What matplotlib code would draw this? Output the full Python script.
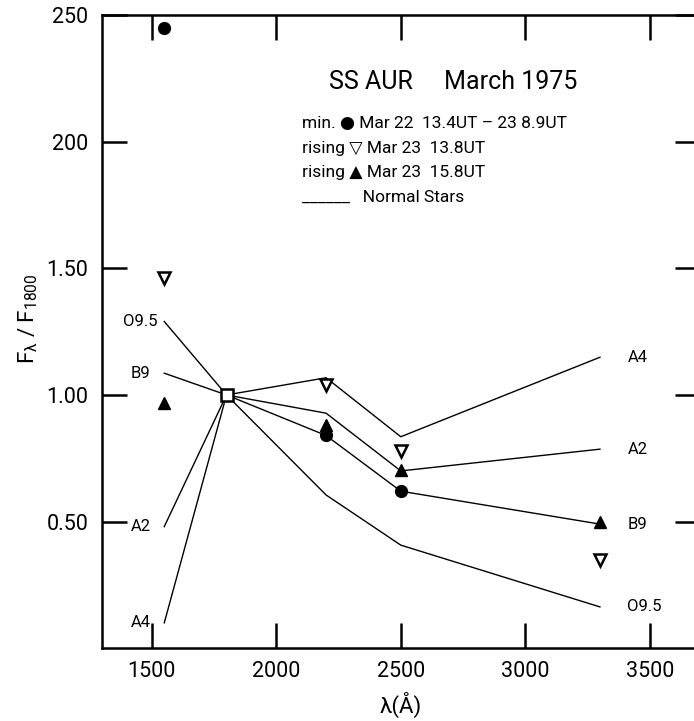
import matplotlib
matplotlib.use('Agg')
import matplotlib.pyplot as plt

plt.rcParams['font.family'] = ['Roboto', 'DejaVu Sans']
plt.rcParams['mathtext.fontset'] = 'custom'
plt.rcParams['mathtext.rm'] = 'Roboto'
plt.rcParams['mathtext.it'] = 'Roboto'

# normal stars, F(lambda)/F(1800)
lam_norm = [1550, 1800, 2200, 2500, 3300]
stars = ['O9.5', 'B9', 'A2', 'A4']
norm_O95 = [1.29, 1.00, 0.605, 0.407, 0.163]
norm_B9 = [1.086, 1.00, 0.84, 0.62, 0.49]
norm_A2 = [0.48, 1.00, 0.928, 0.70, 0.786]
norm_A4 = [0.10, 1.00, 1.068, 0.835, 1.149]

# SS Aur observations
lam_min = [1550, 2200, 2500]
f_min = [2.45, 0.84, 0.62]
lam_r1 = [1550, 2200, 2500, 3300]
f_r1 = [1.46, 1.04, 0.78, 0.35]
lam_r2 = [1550, 2200, 2500, 3300]
f_r2 = [0.97, 0.88, 0.705, 0.50]
lam_ref = [1800]
f_ref = [1.00]

xticks = [1500, 2000, 2500, 3000, 3500]
yticks = [0.5, 1.0, 1.5, 2.0, 2.5]
ytick_labels = ['0.50', '1.00', '1.50', '200', '250']

fig = plt.figure(figsize=(6.94, 7.21), dpi=100)
ax = fig.add_axes([0.147, 0.101, 0.861, 0.878])

for name, vals in zip(stars, [norm_O95, norm_B9, norm_A2, norm_A4]):
    ax.plot(lam_norm, vals, color='black', lw=1.0, zorder=2)
    ax.text(1455, vals[0], name, fontsize=12, ha='center', va='center')
    ax.text(3410, vals[-1], name, fontsize=12, ha='left', va='center')

ax.plot(lam_min, f_min, 'o', color='black', ms=8.5, zorder=4, ls='none')
ax.plot(lam_r1, f_r1, 'v', mfc='white', mec='black', mew=1.8, ms=8, zorder=4, ls='none')
ax.plot(lam_r2, f_r2, '^', color='black', ms=9, zorder=4, ls='none')
ax.plot(lam_ref, f_ref, 's', mfc='white', mec='black', mew=1.8, ms=9, zorder=5, ls='none')

# legend block
ax.text(0.587, 0.894, 'SS AUR     March 1975', transform=ax.transAxes,
        fontsize=18, ha='center', va='center')
ax.text(0.335, 0.829, 'min. \u25cf Mar 22  13.4UT \u2013 23 8.9UT', transform=ax.transAxes,
        fontsize=12.5, ha='left', va='center')
ax.text(0.335, 0.790, 'rising \u25bd Mar 23  13.8UT', transform=ax.transAxes,
        fontsize=12.5, ha='left', va='center')
ax.text(0.335, 0.752, 'rising \u25b2 Mar 23  15.8UT', transform=ax.transAxes,
        fontsize=12.5, ha='left', va='center')
ax.text(0.335, 0.712, '______   Normal Stars', transform=ax.transAxes,
        fontsize=12.5, ha='left', va='center')

ax.set_xlim(1300, 3700)
ax.set_ylim(0, 2.5)
ax.set_xticks(xticks)
ax.set_yticks(yticks)
ax.set_yticklabels(ytick_labels)
ax.tick_params(direction='in', length=18, width=1.8, labelsize=15.5,
               top=True, right=True, pad=9)
ax.tick_params(axis='y', pad=10)
for s in ax.spines.values():
    s.set_linewidth(1.8)

ax.set_xlabel('\u03bb(\u00c5)', fontsize=16, labelpad=7)
ax.set_ylabel(r'F$_\lambda$ / F$_{1800}$', fontsize=16)
ax.yaxis.set_label_coords(-0.105, 0.52)

plt.savefig('out.png', dpi=100)
